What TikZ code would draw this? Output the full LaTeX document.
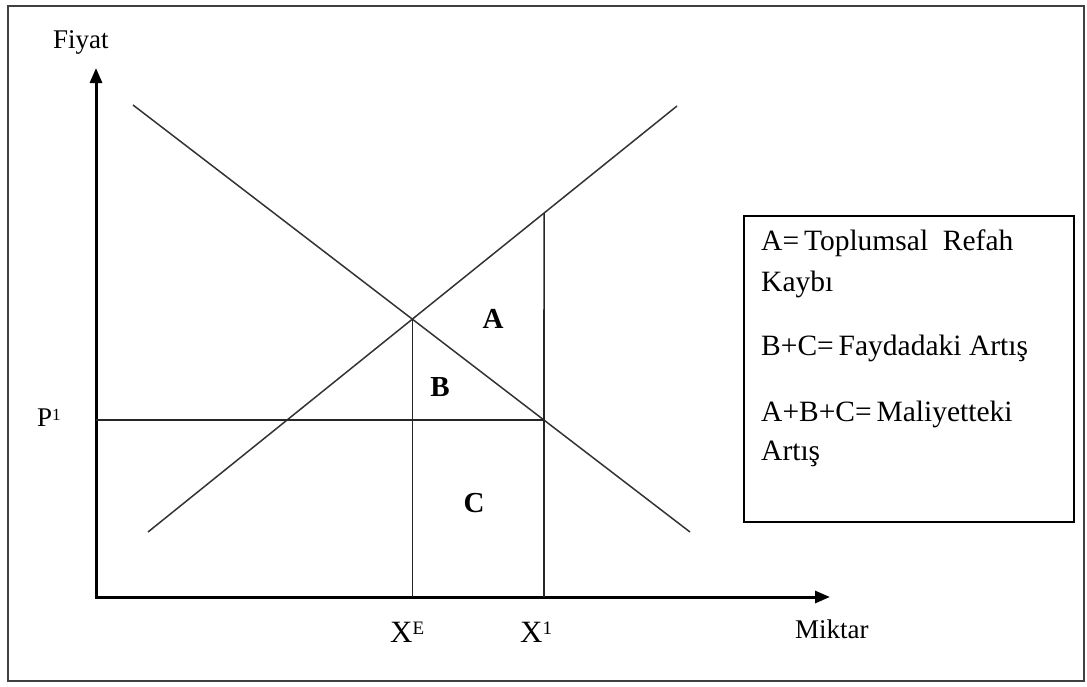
\documentclass[tikz,border=0pt]{standalone}
\usepackage{fontspec}
\setmainfont{Liberation Serif}
\usetikzlibrary{arrows.meta,calc}
\begin{document}
\begin{tikzpicture}[x=1pt,y=-1pt,
  axis/.style={line width=3pt,-{Triangle[length=15pt,width=12pt]}},
  curve/.style={line width=1.5pt,draw=black!80},
  guide/.style={line width=1.6pt,draw=black!85},
  lbl/.style={inner sep=0pt,anchor=base west,font=\fontsize{27}{32}\selectfont},
  area/.style={inner sep=0pt,font=\fontsize{29}{34}\selectfont\bfseries},
  legtext/.style={inner sep=0pt,anchor=base west,font=\fontsize{29.5}{34}\selectfont}]
\useasboundingbox (0,0) rectangle (1087,686);
\draw[line width=1.5pt,black!75] (8,6) rectangle (1084,681);
% axes
\coordinate (O) at (96,598.5);
\coordinate (Ytip) at (96,68);
\coordinate (Xorig) at (94.5,597);
\coordinate (Xtip) at (830,597);
\draw[axis] (O) -- (Ytip);
\draw[axis] (Xorig) -- (Xtip);
% curves
\coordinate (S1) at (148,532);
\coordinate (S2) at (677,106);
\coordinate (D1) at (133,105);
\coordinate (D2) at (690,532);
\draw[curve] (S1) -- (S2);
\draw[curve] (D1) -- (D2);
\coordinate (E) at (intersection of S1--S2 and D1--D2);
\coordinate (XEb) at (E |- Xtip);
\coordinate (X1b) at (544,597);
\coordinate (X1t) at (intersection of S1--S2 and X1b--{544,0});
\coordinate (Q) at (intersection of D1--D2 and X1b--{544,0});
\coordinate (Pax) at (Q -| O);
\draw[guide] (E) -- (XEb);
\draw[guide] (X1t) -- (X1b);
\draw[guide] (Pax) -- (Q);
% labels
\node[lbl] (fiyat) at (53,48) {Fiyat};
\node[lbl] (miktar) at (795,638) {Miktar};
\node[inner sep=0pt,anchor=base west,font=\fontsize{27}{32}\selectfont] (p1) at (37,426) {P\raisebox{6pt}{\fontsize{17}{17}\selectfont 1}};
\node[inner sep=0pt,anchor=base west,font=\fontsize{31}{36}\selectfont] (xe) at (390,642) {X\raisebox{8pt}{\fontsize{19}{19}\selectfont E}};
\node[inner sep=0pt,anchor=base west,font=\fontsize{31}{36}\selectfont] (x1) at (520,642) {X\raisebox{8pt}{\fontsize{19}{19}\selectfont 1}};
\node[area] (A) at (493,319) {A};
\node[area] (B) at (440,387) {B};
\node[area] (C) at (474,503) {C};
% legend
\node[draw,line width=1.8pt,minimum width=330pt,minimum height=306pt,anchor=north west,inner sep=0pt] (legend) at (743,215) {};
\node[legtext] (l1) at (761,250) {A=\,Toplumsal\ \ Refah};
\node[legtext] (l2) at (761,291) {Kaybı};
\node[legtext] (l3) at (761,355) {B+C=\,Faydadaki Artış};
\node[legtext] (l4) at (761,421) {A+B+C=\,Maliyetteki};
\node[legtext] (l5) at (761,460) {Artış};
\end{tikzpicture}
\end{document}
